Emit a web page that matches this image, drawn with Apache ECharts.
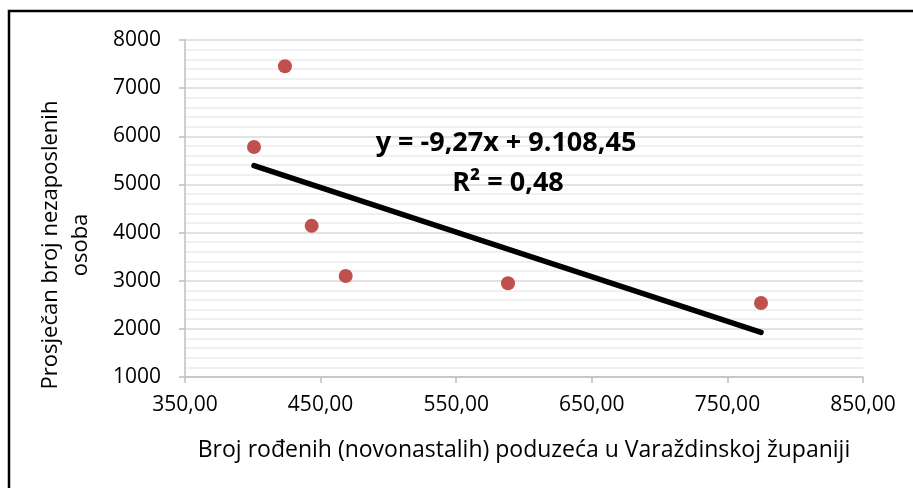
<!DOCTYPE html>
<html>
<head>
<meta charset="utf-8">
<title>Poduzeća i nezaposlenost</title>
<script src="https://cdn.jsdelivr.net/npm/echarts@6/dist/echarts.min.js"></script>
<style>
    html, body {
        margin: 0;
        padding: 0;
        background: #fff;
    }
    #main {
        width: 913px;
        height: 488px;
    }
</style>
</head>
<body>
<div id="main"></div>
<script type="text/javascript">
    // broj rođenih poduzeća (x) i prosječan broj nezaposlenih (y)
    var poduzeca = [400.9, 423.7, 443.4, 468.5, 588.2, 774.8];
    var nezaposleni = [5777, 7455, 4140, 3098, 2946, 2538];

    // linearni trend iz Excela
    var nagib = -9.27;
    var odsjecak = 9108.45;
    var r2 = 0.48;

    var xTicks = [350, 850, 100];   // min, max, korak
    var yTicks = [1000, 8000, 1000];

    var fontTxt = '"Open Sans", "Noto Sans", sans-serif';

    function hr(n, d) {
        // 9108.45 -> 9.108,45
        var s = Math.abs(n).toFixed(d).split('.');
        s[0] = s[0].replace(/\B(?=(\d{3})+(?!\d))/g, '.');
        return (n < 0 ? '-' : '') + s.join(',');
    }

    var tocke = poduzeca.map(function (x, i) {
        return [x, nezaposleni[i]];
    });
    var xMin = Math.min.apply(null, poduzeca);
    var xMax = Math.max.apply(null, poduzeca);
    var trend = [
        [xMin, nagib * xMin + odsjecak],
        [xMax, nagib * xMax + odsjecak]
    ];

    var myChart = echarts.init(document.getElementById('main'));
    var option = {
        animation: false,
        backgroundColor: '#fff',
        grid: {
            left: 185,
            right: 50,
            top: 40,
            bottom: 111
        },
        xAxis: {
            type: 'value',
            min: xTicks[0],
            max: xTicks[1],
            interval: xTicks[2],
            name: 'Broj rođenih (novonastalih) poduzeća u Varaždinskoj županiji',
            nameLocation: 'middle',
            nameGap: 62,
            nameTextStyle: {color: '#000', fontSize: 23, fontFamily: fontTxt},
            axisLine: {lineStyle: {color: '#BFBFBF', width: 1.5}},
            axisTick: {show: true, length: 6, lineStyle: {color: '#BFBFBF', width: 1.5}},
            axisLabel: {
                color: '#000',
                fontSize: 21,
                fontFamily: fontTxt,
                margin: 18,
                formatter: function (v) {
                    return hr(v, 2);
                }
            },
            splitLine: {show: false}
        },
        yAxis: {
            type: 'value',
            min: yTicks[0],
            max: yTicks[1],
            interval: yTicks[2],
            axisLine: {show: true, lineStyle: {color: '#BFBFBF', width: 1.5}},
            axisTick: {show: true, length: 6, lineStyle: {color: '#BFBFBF', width: 1.5}},
            axisLabel: {
                color: '#000',
                fontSize: 21,
                fontFamily: fontTxt,
                margin: 24,
                formatter: function (v) {
                    return String(v);
                }
            },
            splitLine: {lineStyle: {color: '#D9D9D9', width: 1.5}},
            minorTick: {show: false, splitNumber: 5},
            minorSplitLine: {show: true, lineStyle: {color: '#F0F0F0', width: 2}}
        },
        graphic: [
            {
                type: 'rect',
                shape: {x: 9, y: 11, width: 1000, height: 600},
                style: {fill: 'none', stroke: '#000', lineWidth: 2.5},
                silent: true
            },
            {
                type: 'text',
                x: 36,
                y: 245,
                rotation: Math.PI / 2,
                style: {
                    text: 'Prosječan broj nezaposlenih\nosoba',
                    fill: '#000',
                    font: '22px ' + fontTxt,
                    align: 'center',
                    verticalAlign: 'top',
                    lineHeight: 30
                }
            },
            {
                type: 'text',
                x: 506,
                y: 143,
                z: 10,
                style: {
                    text: 'y = ' + hr(nagib, 2) + 'x + ' + hr(odsjecak, 2),
                    fill: '#000',
                    font: 'bold 27px ' + fontTxt,
                    align: 'center',
                    verticalAlign: 'middle'
                }
            },
            {
                type: 'text',
                x: 508,
                y: 183,
                z: 10,
                style: {
                    text: 'R² = ' + hr(r2, 2),
                    fill: '#000',
                    font: 'bold 27px ' + fontTxt,
                    align: 'center',
                    verticalAlign: 'middle'
                }
            }
        ],
        series: [
            {
                name: 'trend',
                type: 'line',
                data: trend,
                symbol: 'none',
                silent: true,
                lineStyle: {color: '#000', width: 5.5, cap: 'round'},
                z: 2
            },
            {
                name: 'podaci',
                type: 'scatter',
                data: tocke,
                symbolSize: 14,
                itemStyle: {color: '#C0504D', opacity: 1},
                z: 3
            }
        ]
    };
    myChart.setOption(option);
</script>
</body>
</html>
